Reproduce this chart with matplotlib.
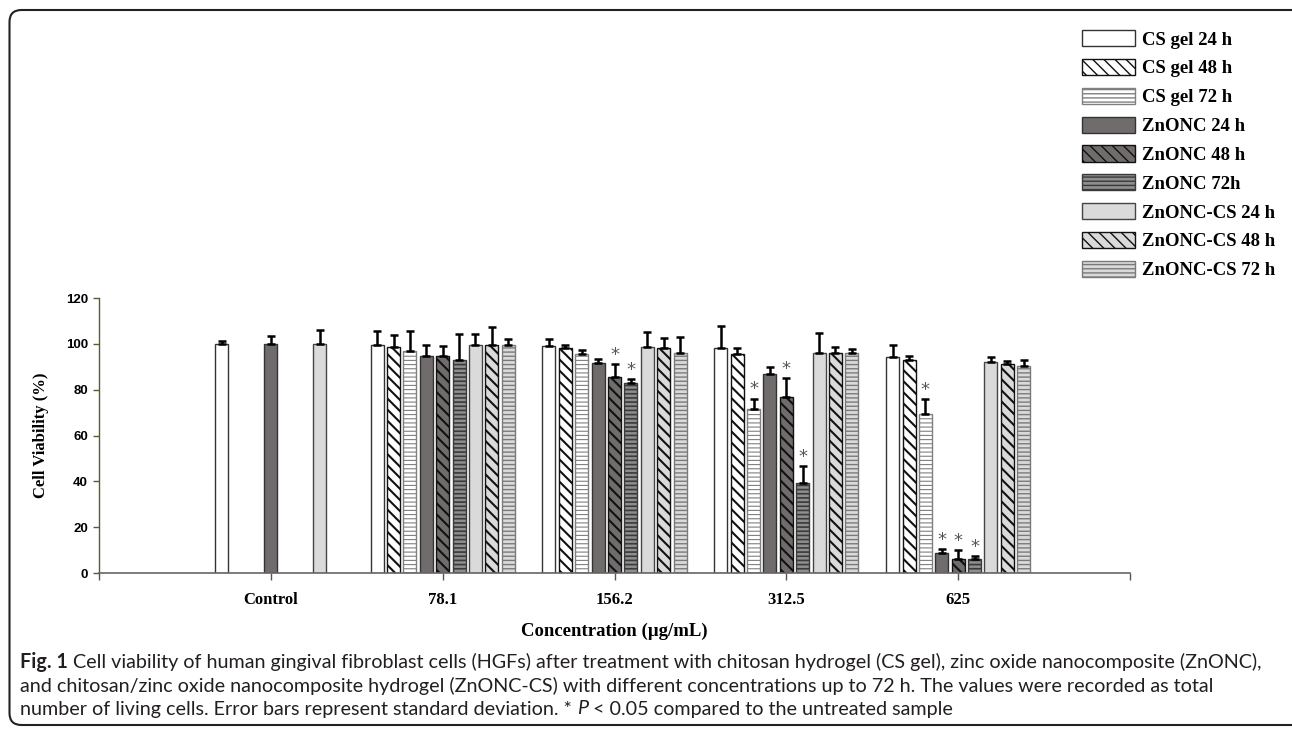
import matplotlib
matplotlib.use("Agg")
import matplotlib.pyplot as plt
import numpy as np
from matplotlib.patches import FancyBboxPatch

nan = np.nan

categories = ['Control', '78.1', '156.2', '312.5', '625']
series_names = ['CS gel 24 h', 'CS gel 48 h', 'CS gel 72 h',
                'ZnONC 24 h', 'ZnONC 48 h', 'ZnONC 72h',
                'ZnONC-CS 24 h', 'ZnONC-CS 48 h', 'ZnONC-CS 72 h']

# mean cell viability (%) per series, one value per concentration
cs24 = [100.0, 99.4, 99.1, 98.0, 94.3]
cs48 = [nan, 98.8, 98.0, 95.4, 92.9]
cs72 = [nan, 96.8, 95.4, 71.6, 69.3]
zn24 = [100.0, 94.5, 91.7, 87.0, 8.6]
zn48 = [nan, 94.5, 85.4, 76.8, 6.0]
zn72 = [nan, 93.0, 82.9, 39.3, 6.1]
zc24 = [100.0, 99.7, 98.7, 96.1, 92.1]
zc48 = [nan, 99.7, 98.4, 96.1, 91.1]
zc72 = [nan, 99.4, 96.1, 96.1, 90.4]

# standard deviations
cs24_sd = [1.2, 6.0, 3.0, 9.8, 5.1]
cs48_sd = [nan, 5.0, 1.6, 2.7, 1.8]
cs72_sd = [nan, 9.0, 1.8, 4.5, 6.6]
zn24_sd = [3.5, 5.0, 1.5, 2.8, 1.8]
zn48_sd = [nan, 4.7, 5.7, 8.3, 4.1]
zn72_sd = [nan, 11.4, 1.6, 7.4, 1.2]
zc24_sd = [6.0, 4.5, 6.4, 8.6, 2.1]
zc48_sd = [nan, 7.6, 4.2, 2.5, 1.2]
zc72_sd = [nan, 2.8, 7.0, 1.6, 2.5]

# (series index, category index) pairs with P < 0.05
signif = [(4, 2), (5, 2), (2, 3), (4, 3), (5, 3), (2, 4), (3, 4), (4, 4), (5, 4)]

means = [cs24, cs48, cs72, zn24, zn48, zn72, zc24, zc48, zc72]
sds = [cs24_sd, cs48_sd, cs72_sd, zn24_sd, zn48_sd, zn72_sd, zc24_sd, zc48_sd, zc72_sd]

# look of each series: fill, edge/hatch colour, hatch, hatch linewidth
styles = [
    ('white', '#333333', None, 1.0),
    ('white', '#111111', '\\\\\\', 1.5),
    ('white', '#808080', '----', 0.8),
    ('#716c6c', '#333333', None, 1.0),
    ('#716c6c', '#111111', '\\\\\\', 1.5),
    ('#8e8e8e', '#3a3a3a', '----', 1.2),
    ('#dadada', '#444444', None, 1.0),
    ('#dadada', '#111111', '\\\\\\', 1.5),
    ('#dadada', '#7a7a7a', '----', 1.0),
]

serif = 'Liberation Serif'
W, H = 1292, 732
fig = plt.figure(figsize=(W / 100, H / 100), dpi=100)
ax = fig.add_axes([99 / W, 1 - 573 / H, (1130 - 99) / W, (573 - 298) / H])

slot = 16.4 / 172
bw = 13.0 / 172
xc = np.arange(len(categories))
handles = []
for j in range(9):
    fc, ec, hatch, hlw = styles[j]
    # control group only has the 24 h bars, spread around the centre
    offs = np.full(len(categories), (j - 4) * slot)
    offs[0] = (j - 3) * slot
    x = xc + offs
    y = np.array(means[j], dtype=float)
    e = np.array(sds[j], dtype=float)
    bars = ax.bar(x, y, bw, color=fc, edgecolor=ec, hatch=hatch, linewidth=1.0,
                  label=series_names[j], zorder=2)
    for b in bars:
        if hasattr(b, 'set_hatch_linewidth'):
            b.set_hatch_linewidth(hlw)
    ax.errorbar(x, y, yerr=[np.zeros_like(e), e], fmt='none', ecolor='black',
                elinewidth=1.8, capsize=3, capthick=1.8, zorder=3)
    handles.append(bars)

for j, i in signif:
    off = (j - 4) * slot
    top = means[j][i] + sds[j][i]
    ax.text(i + off, top + 4, '*', ha='center', va='center', fontsize=13,
            color='#555555', family='DejaVu Sans')

ax.set_xlim(-1, 5)
ax.set_ylim(0, 120)
ax.set_yticks(np.arange(0, 121, 20))
ax.set_yticklabels([str(v) for v in range(0, 121, 20)], family='Liberation Sans',
                   fontweight='bold', fontsize=9.5)
ax.set_xticks([-1, 0, 1, 2, 3, 4, 5])
ax.set_xticklabels([''] + categories + [''], family=serif, fontweight='bold',
                   fontsize=12)
ax.tick_params(axis='x', length=5, width=1, color='#555555', pad=9)
ax.tick_params(axis='y', length=4, width=1, color='#4f6228', pad=4)
for s in ['top', 'right']:
    ax.spines[s].set_visible(False)
ax.spines['left'].set_color('#4f6228')
ax.spines['bottom'].set_color('#666666')
ax.spines['left'].set_linewidth(1)
ax.spines['bottom'].set_linewidth(1.2)
ax.set_ylabel('Cell Viability (%)', family=serif, fontweight='bold', fontsize=12,
              labelpad=12)
ax.set_xlabel('Concentration (\u00b5g/mL)', family=serif, fontweight='bold',
              fontsize=13.5, labelpad=10)

fig.legend(handles=handles, labels=series_names, loc='upper left',
           bbox_to_anchor=(1082 / W, 1 - 30 / H), frameon=False,
           prop={'family': serif, 'weight': 'bold', 'size': 13.5},
           handlelength=2.85, handleheight=0.95, labelspacing=0.55,
           handletextpad=0.35, borderpad=0, borderaxespad=0)

# rounded caption box
box = FancyBboxPatch((0.095, 0.07), 13.3, 7.15,
                     boxstyle='round,pad=0,rounding_size=0.12',
                     transform=fig.dpi_scale_trans, fill=False,
                     edgecolor='#222222', linewidth=1.5)
fig.add_artist(box)

cap_font = 'Lato'
lines = [
    [('Fig. 1', 'bold', 'normal'),
     (' Cell viability of human gingival fibroblast cells (HGFs) after treatment with chitosan hydrogel (CS gel), zinc oxide nanocomposite (ZnONC),', 'normal', 'normal')],
    [('and chitosan/zinc oxide nanocomposite hydrogel (ZnONC-CS) with different concentrations up to 72 h. The values were recorded as total', 'normal', 'normal')],
    [('number of living cells. Error bars represent standard deviation. * ', 'normal', 'normal'),
     ('P', 'normal', 'italic'),
     (' < 0.05 compared to the untreated sample', 'normal', 'normal')],
]
line_y = [662, 686, 709]
fig.canvas.draw()
rend = fig.canvas.get_renderer()


def run_width(runs, size):
    total = 0
    for txt, wt, st in runs:
        t = fig.text(0, 0, txt, family=cap_font, fontweight=wt, fontstyle=st,
                     fontsize=size)
        total += t.get_window_extent(renderer=rend).width
        t.remove()
    return total


# size the caption so the first line spans the box like the reference
cap_size = 11.0 * (1262 - 20) / run_width(lines[0], 11.0)
for runs, ly in zip(lines, line_y):
    xpix = 20
    for txt, wt, st in runs:
        t = fig.text(xpix / W, 1 - ly / H, txt, family=cap_font, fontweight=wt,
                     fontstyle=st, fontsize=cap_size, va='center', ha='left',
                     color='#231f20')
        bb = t.get_window_extent(renderer=rend)
        xpix += bb.width

fig.savefig('out.png', dpi=100)
